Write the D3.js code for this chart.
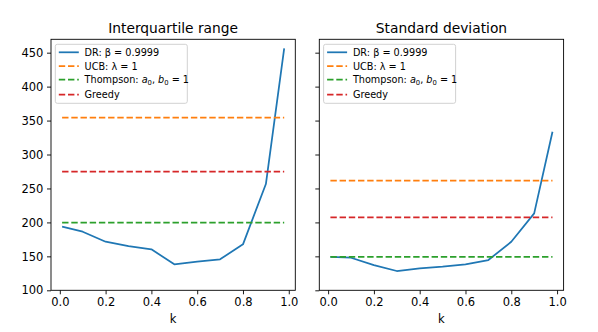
<!DOCTYPE html>
<html><head><meta charset="utf-8">
<script src="https://cdn.jsdelivr.net/npm/d3@7"></script>
<style>body{margin:0;background:#fff}svg{display:block}text{font-family:"DejaVu Sans",sans-serif;fill:#000}</style>
</head><body><svg id="c" width="598" height="332"></svg>
<script>
const kValues = [0.01, 0.1, 0.2, 0.3, 0.4, 0.5, 0.6, 0.7, 0.8, 0.9, 0.98];
const iqrDR = [193.7, 186.3, 171.6, 165.2, 160.4, 138.3, 142.1, 145.7, 167.7, 256.5, 456.4];
const iqrUCB = 354.2, iqrThompson = 199.6, iqrGreedy = 274.7;
const sdDR = [149.4, 148, 137.2, 128.4, 132.4, 134.7, 138.2, 144.6, 171.5, 213.3, 333.5];
const sdUCB = 261.6, sdThompson = 149.4, sdGreedy = 207.4;
const panelTitles = ["Interquartile range", "Standard deviation"];
const yTicks = [100, 150, 200, 250, 300, 350, 400, 450];
const xTicks = [0, 0.2, 0.4, 0.6, 0.8, 1.0];
const colors = {dr: "#1f77b4", ucb: "#ff7f0e", th: "#2ca02c", gr: "#d62728"};

(function () {
const svg = d3.select("#c");
const plotTop = 39.3, plotBottom = 290.3, W = 244.3;
const y = d3.scaleLinear().domain([100, 469.7]).range([plotBottom, plotTop]);
const panels = [
  {left: 51, title: panelTitles[0], dr: iqrDR, ucb: iqrUCB, th: iqrThompson, gr: iqrGreedy, ylabels: true},
  {left: 319.3, title: panelTitles[1], dr: sdDR, ucb: sdUCB, th: sdThompson, gr: sdGreedy, ylabels: false}
];
const lw = 1.75, dash = "6.4,2.8";

panels.forEach(p => {
  const x = d3.scaleLinear().domain([-0.0385, 1.0285]).range([p.left, p.left + W]);
  const g = svg.append("g");
  const xs = [kValues[0], kValues[kValues.length - 1]];
  const hline = (v, c) => g.append("line").attr("x1", x(xs[0])).attr("x2", x(xs[1]))
    .attr("y1", y(v)).attr("y2", y(v)).attr("stroke", c).attr("stroke-width", lw).attr("stroke-dasharray", dash);
  g.append("path").datum(p.dr.map((v, i) => [kValues[i], v]))
    .attr("d", d3.line().x(d => x(d[0])).y(d => y(d[1])))
    .attr("fill", "none").attr("stroke", colors.dr).attr("stroke-width", lw).attr("stroke-linejoin", "round");
  hline(p.ucb, colors.ucb);
  hline(p.th, colors.th);
  hline(p.gr, colors.gr);
  const xa = g.append("g").attr("transform", `translate(0,${plotBottom})`)
    .call(d3.axisBottom(x).tickValues(xTicks).tickFormat(d3.format(".1f")).tickSize(4).tickPadding(3.6));
  const ya = g.append("g").attr("transform", `translate(${p.left},0)`)
    .call(d3.axisLeft(y).tickValues(yTicks).tickSize(4).tickPadding(3.6).tickFormat(p.ylabels ? d3.format("d") : ""));
  [xa, ya].forEach(a => {
    a.select(".domain").remove();
    a.selectAll("line").attr("stroke", "#000").attr("stroke-width", 0.9);
    a.selectAll("text").attr("font-size", "11.5px").attr("font-family", "DejaVu Sans").attr("fill", "#000");
  });
  g.append("rect").attr("x", p.left).attr("y", plotTop).attr("width", W).attr("height", plotBottom - plotTop)
    .attr("fill", "none").attr("stroke", "#000").attr("stroke-width", 0.9);
  g.append("text").attr("x", p.left + W / 2).attr("y", 32.8).attr("text-anchor", "middle")
    .attr("font-size", "13.8px").text(p.title);
  g.append("text").attr("x", p.left + W / 2).attr("y", 323).attr("text-anchor", "middle")
    .attr("font-size", "11.5px").text("k");
  const lx = p.left + 4.3, ly = 44.3;
  g.append("rect").attr("x", lx).attr("y", ly).attr("width", 132).attr("height", 59).attr("rx", 2)
    .attr("fill", "#fff").attr("fill-opacity", 0.8).attr("stroke", "#cccccc").attr("stroke-width", 0.9);
  const rows = [
    {c: colors.dr, d: null, t: "DR: β = 0.9999", y: 52.3},
    {c: colors.ucb, d: dash, t: "UCB: λ = 1", y: 66},
    {c: colors.th, d: dash, t: null, y: 79.6},
    {c: colors.gr, d: dash, t: "Greedy", y: 94.5}
  ];
  rows.forEach(r => {
    const l = g.append("line").attr("x1", lx + 3.5).attr("x2", lx + 23.5).attr("y1", r.y).attr("y2", r.y)
      .attr("stroke", r.c).attr("stroke-width", lw);
    if (r.d) l.attr("stroke-dasharray", r.d);
    const t = g.append("text").attr("x", lx + 29.3).attr("y", r.y + 3.5).attr("font-size", "9.7px");
    if (r.t) t.text(r.t);
    else {
      t.append("tspan").text("Thompson: ");
      t.append("tspan").attr("font-style", "italic").text("a");
      t.append("tspan").attr("font-size", "6.8px").attr("dy", 1.7).text("0");
      t.append("tspan").attr("dy", -1.7).text(", ");
      t.append("tspan").attr("font-style", "italic").text("b");
      t.append("tspan").attr("font-size", "6.8px").attr("dy", 1.7).text("0");
      t.append("tspan").attr("dy", -1.7).text(" = 1");
    }
  });
});
})();
</script></body></html>
